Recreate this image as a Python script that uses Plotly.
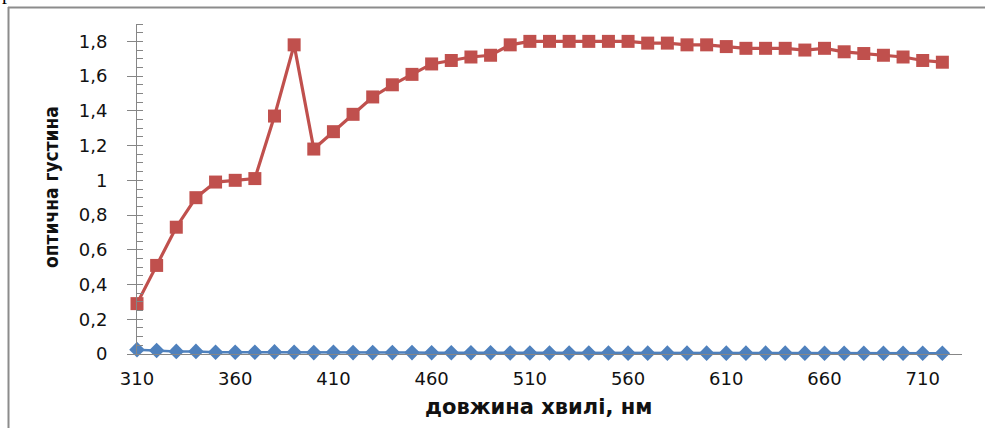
import plotly.graph_objects as go

# wavelength grid, nm
wavelength = list(range(310, 730, 10))

# optical density, sample series (red squares)
density_sample = [
    0.29, 0.51, 0.73, 0.90, 0.99, 1.00, 1.01, 1.37, 1.78, 1.18,
    1.28, 1.38, 1.48, 1.55, 1.61, 1.67, 1.69, 1.71, 1.72, 1.78,
    1.80, 1.80, 1.80, 1.80, 1.80, 1.80, 1.79, 1.79, 1.78, 1.78,
    1.77, 1.76, 1.76, 1.76, 1.75, 1.76, 1.74, 1.73, 1.72, 1.71,
    1.69, 1.68,
]

# optical density, reference series (blue diamonds)
density_reference = [
    0.025, 0.020, 0.015, 0.015, 0.010, 0.010, 0.010, 0.012, 0.010, 0.008,
    0.010, 0.008, 0.008, 0.008, 0.008, 0.007, 0.007, 0.007, 0.007, 0.006,
    0.006, 0.006, 0.006, 0.006, 0.006, 0.005, 0.005, 0.005, 0.005, 0.005,
    0.005, 0.005, 0.005, 0.005, 0.005, 0.004, 0.004, 0.004, 0.004, 0.004,
    0.004, 0.004,
]

x_ticks = [310, 360, 410, 460, 510, 560, 610, 660, 710]
y_ticks = [0, 0.2, 0.4, 0.6, 0.8, 1.0, 1.2, 1.4, 1.6, 1.8]
y_tick_text = ["0", "0,2", "0,4", "0,6", "0,8", "1", "1,2", "1,4", "1,6", "1,8"]

x_title = "довжина хвилі, нм"
y_title = "оптична густина"

W, H = 985, 428
ML, MR, MT, MB = 137, 23, 24, 74
PW, PH = W - ML - MR, H - MT - MB


def px(xp):
    return (xp - ML) / PW


def py(yp):
    return (H - MB - yp) / PH


RED = "#C0504D"
BLUE = "#4F81BD"
AXIS = "#868686"
TICK_FONT = dict(family="DejaVu Sans, Verdana, sans-serif", size=18, color="#111111")

fig = go.Figure()
fig.add_trace(go.Scatter(
    x=wavelength, y=density_reference, mode="lines+markers",
    line=dict(color=BLUE, width=2.5),
    marker=dict(symbol="diamond", size=12, color=BLUE),
    cliponaxis=False, showlegend=False,
))
fig.add_trace(go.Scatter(
    x=wavelength, y=density_sample, mode="lines+markers",
    line=dict(color=RED, width=3.2),
    marker=dict(symbol="square", size=13, color=RED),
    cliponaxis=False, showlegend=False,
))

fig.update_layout(
    width=W, height=H,
    margin=dict(l=ML, r=MR, t=MT, b=MB, pad=0),
    paper_bgcolor="white", plot_bgcolor="white",
    font=dict(family="Liberation Sans, Arial, sans-serif", color="#000000"),
    xaxis=dict(
        range=[310, 730], tickmode="array", tickvals=x_ticks,
        ticks="", showgrid=False, zeroline=False,
        showline=True, linecolor=AXIS, linewidth=1,
        tickfont=TICK_FONT, ticklabelstandoff=8,
    ),
    yaxis=dict(
        range=[0, 1.9], tickmode="array", tickvals=y_ticks, ticktext=y_tick_text,
        ticks="outside", ticklen=9, tickcolor=AXIS, tickwidth=1,
        showgrid=False, zeroline=False,
        showline=True, linecolor=AXIS, linewidth=1,
        minor=dict(dtick=0.05, tick0=0, ticks="inside", ticklen=6,
                   tickcolor=AXIS, tickwidth=1, showgrid=False),
        tickfont=TICK_FONT, ticklabelstandoff=16,
    ),
    shapes=[
        dict(type="line", xref="paper", yref="paper",
             x0=px(8), x1=px(W + 2), y0=py(7.5), y1=py(7.5),
             line=dict(color="#8c8c8c", width=2)),
        dict(type="line", xref="paper", yref="paper",
             x0=px(8.5), x1=px(8.5), y0=py(7), y1=py(H + 2),
             line=dict(color="#8c8c8c", width=2)),
    ],
    annotations=[
        dict(text="р.", xref="paper", yref="paper", x=px(0), y=py(6),
             xanchor="left", yanchor="bottom", showarrow=False,
             font=dict(family="Liberation Serif, Times New Roman, serif", size=20, color="#000000")),
        # axis titles
        dict(text=x_title, xref="paper", yref="paper",
             x=px(538), y=py(407), xanchor="center", yanchor="middle", showarrow=False,
             font=dict(family="DejaVu Sans, Verdana, sans-serif", size=21,
                       weight="bold", color="#111111")),
        dict(text=y_title, xref="paper", yref="paper",
             x=px(51), y=py(187), xanchor="center", yanchor="middle", showarrow=False,
             textangle=-90,
             font=dict(family="DejaVu Sans Condensed, DejaVu Sans, sans-serif",
                       size=19, weight="bold", color="#111111")),
    ],
)

fig.write_html("out.html")
